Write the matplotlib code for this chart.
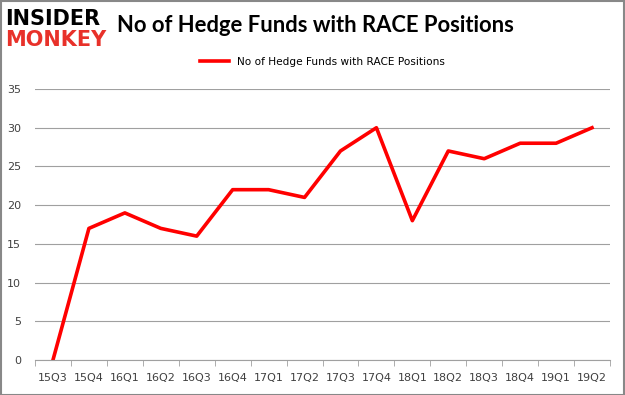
import matplotlib.pyplot as plt
import numpy as np

quarters = ['15Q3', '15Q4', '16Q1', '16Q2', '16Q3', '16Q4', '17Q1', '17Q2',
            '17Q3', '17Q4', '18Q1', '18Q2', '18Q3', '18Q4', '19Q1', '19Q2']
funds = [0, 17, 19, 17, 16, 22, 22, 21, 27, 30, 18, 27, 26, 28, 28, 30]
series_name = 'No of Hedge Funds with RACE Positions'

fig = plt.figure(figsize=(6.25, 3.95), dpi=100)
ax = fig.add_axes([0.056, 0.0886, 0.92, 0.686])

x = np.arange(len(quarters))
ax.plot(x, funds, color='#ff0000', linewidth=2.6, label=series_name)

ax.set_xlim(-0.5, len(quarters) - 0.5)
ax.set_ylim(0, 35)
ax.set_yticks(range(0, 36, 5))
ax.set_xticks(x)
ax.set_xticklabels(quarters)
ax.set_xticks(np.arange(-0.5, len(quarters), 1), minor=True)
ax.tick_params(axis='x', which='major', length=0, pad=9, labelsize=8, colors='#404040')
ax.tick_params(axis='x', which='minor', length=4, color='#a0a0a0')
ax.tick_params(axis='y', length=0, labelsize=8, colors='#404040', pad=10)
ax.grid(axis='y', color='#a0a0a0', linewidth=0.8)
ax.set_axisbelow(True)
for s in ['top', 'right', 'left']:
    ax.spines[s].set_visible(False)
ax.spines['bottom'].set_color('#a0a0a0')

ax.legend(loc='center', bbox_to_anchor=(0.5, 1.1), frameon=False,
          fontsize=7.6, handlelength=2.7)

# logo and title
fig.text(0.008, 0.953, 'INSIDER', fontsize=15, fontweight='heavy', color='black',
         va='center', family='DejaVu Sans')
fig.text(0.008, 0.9, 'MONKEY', fontsize=15, fontweight='heavy', color='#e8312a',
         va='center', family='DejaVu Sans')
fig.text(0.187, 0.935, 'No of Hedge Funds with RACE Positions', fontsize=15.8,
         fontweight='bold', color='black', va='center', family='Lato')

fig.patches.append(plt.Rectangle((0.001, 0.001), 0.998, 0.997, transform=fig.transFigure,
                                 fill=False, edgecolor='#888888', linewidth=1.5))

fig.savefig('out.png', dpi=100)
